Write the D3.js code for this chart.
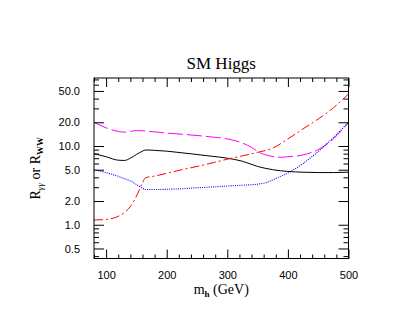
<!DOCTYPE html>
<html>
<head>
<meta charset="utf-8">
<script src="https://cdn.jsdelivr.net/npm/d3@7"></script>
<style>
  html, body { margin: 0; padding: 0; background: #fff; }
  svg { display: block; }
</style>
</head>
<body>
<script>
// ---- data ----
const blackMass = [80,100,120,130,140,150,160,165,180,200,225,250,275,300,325,350,375,400,425,450,475,500];
const blackR    = [8.0,7.3,6.6,6.55,7.0,7.8,8.6,8.9,8.8,8.6,8.2,7.8,7.4,7.0,6.4,5.5,5.0,4.75,4.65,4.6,4.6,4.65];

const redMass = [80,100,120,130,140,150,160,165,180,200,225,250,275,300,325,350,375,400,425,450,475,500];
const redR    = [1.15,1.17,1.28,1.42,1.7,2.3,3.4,3.95,4.15,4.5,5.0,5.5,6.1,6.8,7.5,8.3,9.4,12.3,16.5,22,30.5,46];

const magentaMass = [80,100,120,130,140,150,160,180,200,225,250,275,300,325,340,354,370,387,400,425,450,475,500];
const magentaR    = [20,17,15.3,15.0,15.3,15.7,15.6,15.1,14.6,14.1,13.6,13.0,12.3,10.9,9.6,8.2,7.5,7.2,7.3,7.7,9.0,12.3,20];

const blueMass = [80,100,115,130,140,150,160,165,180,200,225,250,275,300,325,350,365,380,400,425,450,475,500];
const blueR    = [5.0,4.6,4.25,3.85,3.6,3.25,2.9,2.8,2.8,2.82,2.87,2.95,3.02,3.1,3.18,3.28,3.45,3.87,4.55,6.0,8.5,12.8,20];

const xTicks = [100,200,300,400,500];
const yTicks = [0.5,1,2,5,10,20,50];
const yTickLabels = ["0.5","1.0","2.0","5.0","10.0","20.0","50.0"];

// ---- layout ----
const W = 415, H = 321;
const L = 94, R = 348.5, T = 78, B = 258.5;

const svg = d3.select("body").append("svg").attr("width", W).attr("height", H);
svg.append("rect").attr("width", W).attr("height", H).attr("fill", "#fff");

const x = d3.scaleLinear().domain([80, 500]).range([L, R]);
const y = d3.scaleLog().domain([0.373, 73]).range([B, T]);

const series = [
  {m: blackMass, r: blackR, color: "#000000", dash: null, w: 1},
  {m: redMass, r: redR, color: "#ff0000", dash: "9,3,2,3", w: 1},
  {m: magentaMass, r: magentaR, color: "#ff00ff", dash: "15,4", w: 1},
  {m: blueMass, r: blueR, color: "#0000ff", dash: "1,1.2", w: 1.1}
];

const line = d3.line().x(d => x(d[0])).y(d => y(d[1])).curve(d3.curveMonotoneX);

const plot = svg.append("g");
series.forEach(s => {
  const pts = s.m.map((m, i) => [m, s.r[i]]);
  plot.append("path").datum(pts)
    .attr("d", line)
    .attr("fill", "none")
    .attr("stroke", s.color)
    .attr("stroke-width", s.w)
    .attr("stroke-dasharray", s.dash);
});

// ---- axes (ticks inward on all sides) ----
const xMinor = d3.range(80, 501, 20).filter(v => xTicks.indexOf(v) < 0);
const yMinor = [];
[0.1, 1, 10].forEach(d => { for (let k = 1; k <= 9; k++) { const v = +(k * d).toFixed(3); if (v >= 0.373 && v <= 73 && yTicks.indexOf(v) < 0) yMinor.push(v); } });

const tickColor = "#000";
const fontSans = "'Liberation Sans', Arial, sans-serif";

const axBottom = svg.append("g").attr("transform", `translate(0,${B})`)
  .call(d3.axisBottom(x).tickValues(xTicks).tickSizeInner(-9).tickSizeOuter(0).tickPadding(13).tickFormat(d3.format("d")));
const axBottomMinor = svg.append("g").attr("transform", `translate(0,${B})`)
  .call(d3.axisBottom(x).tickValues(xMinor).tickSizeInner(-4).tickSizeOuter(0).tickFormat(""));
const axTop = svg.append("g").attr("transform", `translate(0,${T})`)
  .call(d3.axisTop(x).tickValues(xTicks).tickSizeInner(-9).tickSizeOuter(0).tickFormat(""));
const axTopMinor = svg.append("g").attr("transform", `translate(0,${T})`)
  .call(d3.axisTop(x).tickValues(xMinor).tickSizeInner(-4).tickSizeOuter(0).tickFormat(""));

const axLeft = svg.append("g").attr("transform", `translate(${L},0)`)
  .call(d3.axisLeft(y).tickValues(yTicks).tickSizeInner(-10).tickSizeOuter(0).tickPadding(14)
    .tickFormat((d, i) => yTickLabels[i]));
const axLeftMinor = svg.append("g").attr("transform", `translate(${L},0)`)
  .call(d3.axisLeft(y).tickValues(yMinor).tickSizeInner(-5).tickSizeOuter(0).tickFormat(""));
const axRight = svg.append("g").attr("transform", `translate(${R},0)`)
  .call(d3.axisRight(y).tickValues(yTicks).tickSizeInner(-10).tickSizeOuter(0).tickFormat(""));
const axRightMinor = svg.append("g").attr("transform", `translate(${R},0)`)
  .call(d3.axisRight(y).tickValues(yMinor).tickSizeInner(-5).tickSizeOuter(0).tickFormat(""));

[axBottom, axBottomMinor, axTop, axTopMinor, axLeft, axLeftMinor, axRight, axRightMinor].forEach(g => {
  g.select(".domain").remove();
  g.selectAll("line").attr("stroke", tickColor).attr("stroke-width", 1);
  g.selectAll("text").attr("fill", "#000").style("font-family", fontSans).style("font-size", "11px");
});

// frame
svg.append("rect").attr("x", L).attr("y", T).attr("width", R - L).attr("height", B - T)
  .attr("fill", "none").attr("stroke", "#000").attr("stroke-width", 1);

// ---- titles ----
const serif = "'Liberation Serif', 'DejaVu Serif', serif";
svg.append("text").attr("x", (L + R) / 2).attr("y", 69).attr("text-anchor", "middle")
  .style("font-family", serif).style("font-size", "17px").text("SM Higgs");

const xl = svg.append("text").attr("x", (L + R) / 2).attr("y", 294).attr("text-anchor", "middle")
  .style("font-family", serif).style("font-size", "14px");
xl.append("tspan").text("m");
xl.append("tspan").attr("dy", 3).style("font-size", "9px").style("font-weight", "bold").text("h");
xl.append("tspan").attr("dy", -3).text(" (GeV)");

const yl = svg.append("text").attr("transform", `translate(40,${(T + B) / 2}) rotate(-90)`)
  .attr("text-anchor", "middle").style("font-family", serif).style("font-size", "14px");
yl.append("tspan").text("R");
yl.append("tspan").attr("dy", 3).style("font-size", "9px").style("font-style", "italic").text("γγ");
yl.append("tspan").attr("dy", -3).text(" or R");
yl.append("tspan").attr("dy", 3).style("font-size", "9px").style("font-weight", "bold").text("WW");
</script>
</body>
</html>
